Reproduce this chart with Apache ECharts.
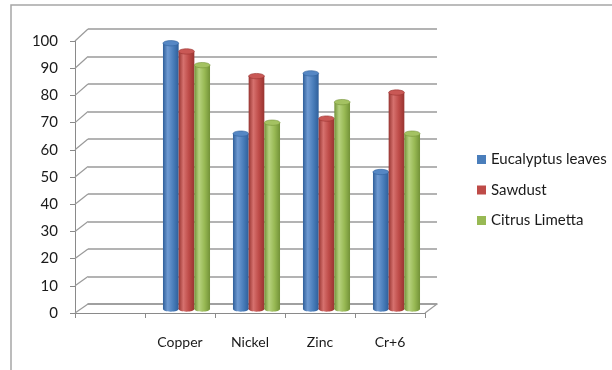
<!DOCTYPE html>
<html>
<head>
<meta charset="utf-8">
<script src="https://cdn.jsdelivr.net/npm/echarts@6/dist/echarts.min.js"></script>
<style>
  html, body { margin: 0; padding: 0; background: #fff; }
  #chart { width: 612px; height: 370px; }
</style>
</head>
<body>
<div id="chart"></div>
<script>
// Removal efficiency (%) by adsorbent and metal ion
const categories = ['', 'Copper', 'Nickel', 'Zinc', 'Cr+6'];
const seriesNames = ['Eucalyptus leaves', 'Sawdust', 'Citrus Limetta'];
const eucalyptus = [null, 97, 64, 86, 50];
const sawdust = [null, 94, 85, 69.5, 79];
const citrus = [null, 89, 68, 75.5, 64];
const yTicks = [0, 10, 20, 30, 40, 50, 60, 70, 80, 90, 100];

const palette = [
  { base: '#4A7EBB', dark: '#2f5f9a', light: '#6f9ad2', cap: '#5587c4' },
  { base: '#BE4B48', dark: '#983431', light: '#d6716e', cap: '#c95855' },
  { base: '#98B954', dark: '#739238', light: '#b6d27e', cap: '#a4c262' }
];

const FONT = 'Lato, "Open Sans", sans-serif';
// three depth planes of the pseudo-3D box: front axis, bar plane, back wall
const front = { left: 75, top: 41, width: 350, height: 272 };
const mid = { left: 81.5, top: 35, width: 350, height: 274 };
const back = { left: 88, top: 29, width: 349, height: 275 };

function cylinder(slot) {
  return function (params, api) {
    const v = api.value(1);
    if (v == null || isNaN(v)) return;
    const topPt = api.coord([api.value(0), v]);
    const basePt = api.coord([api.value(0), 0]);
    const band = api.size([1, 0])[0];
    const w = band * 0.224;
    const cx = topPt[0] + (slot - 1) * w;
    const x0 = cx - w / 2;
    const ry = w * 0.17;
    const c = palette[slot];
    const body = new echarts.graphic.LinearGradient(0, 0, 1, 0, [
      { offset: 0, color: c.dark },
      { offset: 0.3, color: c.light },
      { offset: 0.65, color: c.base },
      { offset: 1, color: c.dark }
    ]);
    return {
      type: 'group',
      children: [
        { type: 'ellipse', shape: { cx: cx, cy: basePt[1], rx: w / 2, ry: ry }, style: { fill: body } },
        { type: 'rect', shape: { x: x0, y: topPt[1], width: w, height: basePt[1] - topPt[1] }, style: { fill: body } },
        { type: 'ellipse', shape: { cx: cx, cy: topPt[1], rx: w / 2, ry: ry },
          style: { fill: c.cap, stroke: c.dark, lineWidth: 0.6 } }
      ]
    };
  };
}

function toPairs(arr) {
  const out = [];
  arr.forEach(function (v, i) { if (v != null) out.push([i, v]); });
  return out;
}

const valueSets = [eucalyptus, sawdust, citrus];

const chart = echarts.init(document.getElementById('chart'), null, { renderer: 'canvas' });

const option = {
  animation: false,
  backgroundColor: '#fff',
  textStyle: { fontFamily: FONT },
  legend: {
    orient: 'vertical',
    left: 472,
    top: 147,
    itemWidth: 9,
    itemHeight: 9,
    itemGap: 15.5,
    icon: 'rect',
    textStyle: { fontFamily: FONT, fontSize: 15, color: '#1a1a1a', lineHeight: 15 },
    data: seriesNames
  },
  grid: [
    Object.assign({}, front),
    Object.assign({}, mid),
    Object.assign({}, back)
  ],
  xAxis: [
    {
      gridIndex: 0, type: 'category', data: categories, boundaryGap: true,
      axisLine: { show: true, lineStyle: { color: '#8a8a8a', width: 1 } },
      axisTick: { show: true, length: 5, alignWithLabel: false, lineStyle: { color: '#8a8a8a' } },
      axisLabel: { margin: 22, fontSize: 14, color: '#1a1a1a', fontFamily: FONT },
      splitLine: { show: false }
    },
    { gridIndex: 1, type: 'category', data: categories, boundaryGap: true, show: false },
    {
      gridIndex: 2, type: 'category', data: categories, boundaryGap: true,
      axisLine: { show: true, lineStyle: { color: '#9a9a9a', width: 1.5 } },
      axisTick: { show: false }, axisLabel: { show: false }, splitLine: { show: false }
    }
  ],
  yAxis: [
    {
      gridIndex: 0, type: 'value', min: 0, max: 100, interval: 10,
      axisLine: { show: true, lineStyle: { color: '#8a8a8a', width: 1 } },
      axisTick: { show: true, length: 5, lineStyle: { color: '#8a8a8a' } },
      axisLabel: { margin: 17, fontSize: 15, color: '#1a1a1a', fontFamily: FONT },
      splitLine: { show: false }
    },
    { gridIndex: 1, type: 'value', min: 0, max: 100, interval: 10, show: false },
    {
      gridIndex: 2, type: 'value', min: 0, max: 100, interval: 10,
      axisLine: { show: false }, axisTick: { show: false }, axisLabel: { show: false },
      splitLine: { show: true, lineStyle: { color: '#9a9a9a', width: 1.5 } }
    }
  ],
  series: valueSets.map(function (vals, k) {
    return {
      name: seriesNames[k],
      type: 'custom',
      xAxisIndex: 1,
      yAxisIndex: 1,
      itemStyle: { color: palette[k].base },
      renderItem: cylinder(k),
      encode: { x: 0, y: 1 },
      data: toPairs(vals),
      z: 5
    };
  })
};

chart.setOption(option);

// Depth edges: connect the front axis ticks to the back-wall gridlines,
// close the floor on the right, and frame the chart area.
const edges = [];
const edgeStyle = { stroke: '#9a9a9a', lineWidth: 1.2 };
yTicks.forEach(function (t) {
  const yf = chart.convertToPixel({ yAxisIndex: 0 }, t);
  const yb = chart.convertToPixel({ yAxisIndex: 2 }, t);
  edges.push({ type: 'line', shape: { x1: front.left, y1: yf, x2: back.left, y2: yb }, style: edgeStyle, z: 1 });
});
const yf0 = chart.convertToPixel({ yAxisIndex: 0 }, 0);
const yb0 = chart.convertToPixel({ yAxisIndex: 2 }, 0);
edges.push({ type: 'line',
  shape: { x1: front.left + front.width, y1: yf0, x2: back.left + back.width, y2: yb0 },
  style: edgeStyle, z: 1 });
edges.push({ type: 'rect', shape: { x: 11, y: 5, width: 700, height: 400 },
  style: { fill: 'none', stroke: '#a6a6a6', lineWidth: 1.5 }, z: 0 });

chart.setOption({ graphic: { elements: edges } });
</script>
</body>
</html>
